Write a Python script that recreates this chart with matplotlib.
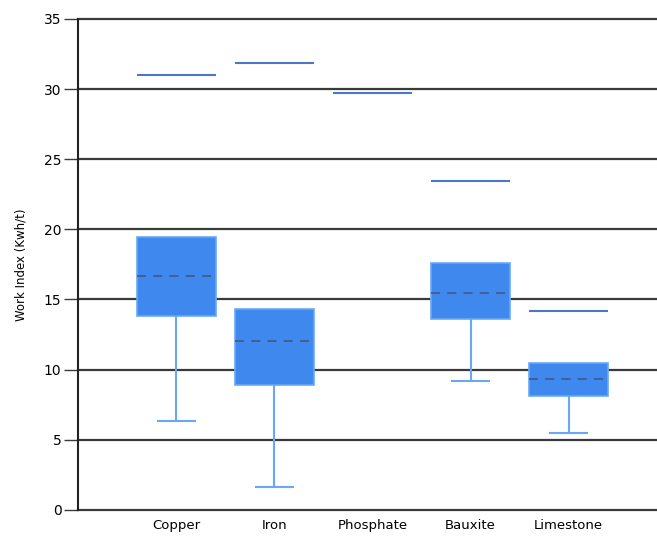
import numpy as np
import matplotlib.pyplot as plt

# --- Data ---
minerals = ["Copper", "Iron", "Phosphate", "Bauxite", "Limestone"]
q1 = [13.8, 8.9, np.nan, 13.6, 8.1]
q3 = [19.45, 14.35, np.nan, 17.6, 10.5]
median = [16.7, 12.05, np.nan, 15.45, 9.3]
low = [6.3, 1.65, np.nan, 9.2, 5.45]
top = [31.0, 31.85, 29.7, 23.45, 14.2]

pos = np.arange(1, len(minerals) + 1)
box_w = 0.8
cap_w = 0.4

fig = plt.figure(figsize=(6.57, 5.4), dpi=100)
ax = fig.add_axes([0.119, 0.056, 0.881, 0.909])

# grid lines
for v in range(0, 36, 5):
    ax.axhline(v, color="#3a3a3a", lw=1.6, zorder=1, clip_on=False)

q1a, q3a = np.array(q1), np.array(q3)
ok = ~np.isnan(q1a)

# lower whiskers + caps
ax.vlines(pos[ok], np.array(low)[ok], q1a[ok], color="#6aa8f5", lw=1.5, zorder=2)
ax.hlines(np.array(low)[ok], pos[ok] - cap_w / 2, pos[ok] + cap_w / 2,
          color="#6aa8f5", lw=1.5, zorder=2)

# boxes
ax.bar(pos[ok], (q3a - q1a)[ok], bottom=q1a[ok], width=box_w,
       color="#3f88ee", edgecolor="#6aa8f5", lw=1.2, zorder=3)

# medians
ax.hlines(np.array(median)[ok], pos[ok] - box_w / 2, pos[ok] + box_w / 2,
          color="#3d5f8f", lw=1.3, linestyles=(0, (5, 4)), zorder=4)

# upper lines
ax.hlines(top, pos - box_w / 2, pos + box_w / 2,
          color="#4a78c8", lw=1.5, zorder=4)

ax.set_xlim(0, 5.9)
ax.set_ylim(0, 35)
ax.set_yticks(range(0, 36, 5))
ax.set_xticks(pos)
ax.set_xticklabels(minerals, fontsize=9.5)
ax.tick_params(axis="y", labelsize=10, length=10, width=1, color="#3a3a3a", pad=2)
ax.tick_params(axis="x", length=0, pad=7)
ax.set_ylabel("Work Index (Kwh/t)", fontsize=8.5, labelpad=12)

for s in ["top", "right", "bottom"]:
    ax.spines[s].set_visible(False)
ax.spines["left"].set_color("#222222")
ax.spines["left"].set_linewidth(1.5)

fig.savefig("out.png", dpi=100)
